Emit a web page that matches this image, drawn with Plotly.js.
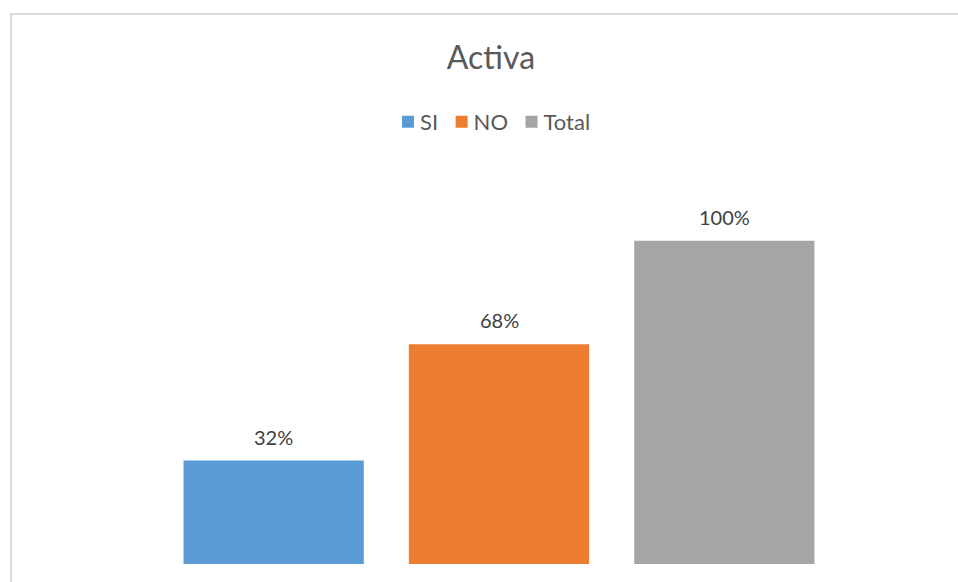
<!DOCTYPE html>
<html>
<head>
<meta charset="utf-8">
<script src="https://cdn.plot.ly/plotly-3.0.1.min.js"></script>
<style>
html,body{margin:0;padding:0;background:#fff;overflow:hidden;}
#chart{position:absolute;left:0;top:0;width:958px;height:582px;}
#frame{position:absolute;left:10px;top:13px;width:1000px;height:700px;border:2px solid #d9d9d9;pointer-events:none;}
</style>
</head>
<body>
<div id="chart"></div>
<div id="frame"></div>
<script>
const chartTitle = 'Activa';
const categories = ['SI', 'NO', 'Total'];
const values = [0.32, 0.68, 1.00];
const labels = ['32%', '68%', '100%'];
const colors = ['#5B9BD5', '#ED7D31', '#A5A5A5'];

const FONT = 'Lato, "Open Sans", sans-serif';

const traces = categories.map((c, i) => ({
  type: 'bar',
  name: c,
  x: [c],
  y: [values[i]],
  width: 0.8,
  marker: {color: colors[i]},
  hoverinfo: 'skip'
}));

const annotations = categories.map((c, i) => ({
  x: c, y: values[i], xref: 'x', yref: 'y',
  text: labels[i], showarrow: false,
  yanchor: 'bottom', yshift: 10,
  font: {family: FONT, size: 20, color: '#404040'}
}));

const layout = {
  width: 958, height: 582,
  margin: {l: 161, r: 121, t: 176, b: 18},
  paper_bgcolor: '#ffffff', plot_bgcolor: '#ffffff',
  barmode: 'overlay',
  showlegend: true,
  title: {text: chartTitle, x: 491 / 958, xref: 'container', xanchor: 'center', y: 0.9, yref: 'container', yanchor: 'middle',
          font: {family: FONT, size: 32, color: '#595959'}},
  legend: {orientation: 'h', x: 0.5, xanchor: 'center', y: 1 - 122 / 582, yref: 'container', yanchor: 'middle',
           font: {family: FONT, size: 22, color: '#595959'}, traceorder: 'normal'},
  xaxis: {type: 'category', categoryarray: categories, range: [-0.5, 2.5], showticklabels: false,
          showgrid: false, zeroline: false, showline: false, ticks: ''},
  yaxis: {range: [0, 1.2], showticklabels: false, showgrid: false, zeroline: false, showline: false, ticks: ''},
  annotations: annotations
};

Plotly.newPlot('chart', traces, layout, {displayModeBar: false, staticPlot: true}).then(gd => {
  // tighten legend spacing (symbol close to its label, as in the reference)
  try {
    const items = Array.from(gd.querySelectorAll('.legend .traces'));
    if (!items.length) return;
    const parseT = el => {
      const m = /translate\(\s*([-\d.e]+)[ ,]+([-\d.e]+)/.exec(el.getAttribute('transform') || '');
      return m ? [parseFloat(m[1]), parseFloat(m[2])] : [0, 0];
    };
    const sym0 = items[0].querySelector('.legendpoints path');
    const symLeft = sym0 ? sym0.getBoundingClientRect().left : null;
    const [x0, y0] = parseT(items[0]);
    const shift = symLeft !== null ? 402 - symLeft : 0;
    let x = x0 + shift;
    items.forEach(it => {
      const [, y] = parseT(it);
      const t = it.querySelector('text.legendtext');
      if (t) t.setAttribute('x', 32);
      it.setAttribute('transform', 'translate(' + x + ',' + y + ')');
      const tw = t ? t.getComputedTextLength() : 0;
      x += 32 + tw + 3.5;
    });
  } catch (e) {}
});
</script>
</body>
</html>
